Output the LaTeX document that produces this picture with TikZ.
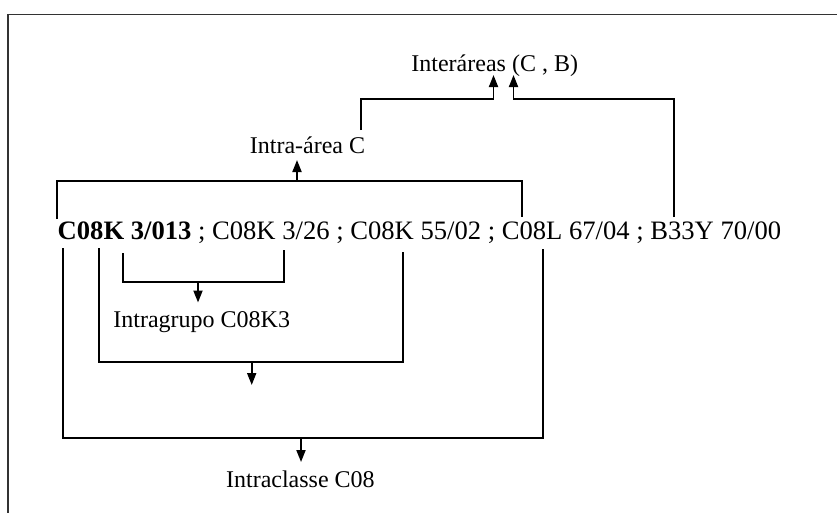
\documentclass[tikz,border=0pt]{standalone}
\usepackage{fontspec}
\setmainfont{Liberation Serif}
\usetikzlibrary{arrows.meta}
\begin{document}
\begin{tikzpicture}[x=1pt, y=-1pt,
  lbl/.style={inner sep=0pt, font=\fontsize{24}{28}\selectfont},
  codeline/.style={inner sep=0pt, font=\fontsize{26.6}{30}\selectfont},
  link/.style={line width=1.8pt, line cap=butt, line join=miter},
  up/.style={link, -{Triangle[length=12pt, width=9pt]}},
  frame/.style={line width=1.4pt, draw=black!80}]
  \useasboundingbox (0,0) rectangle (837,512);
  \begin{scope}
    \clip (0,0) rectangle (837,512);
    \draw[frame] (8,14.7) rectangle (860,540);
  \end{scope}

  % labels
  \node[codeline, anchor=base west] (codes) at (57.5,239)
    {\textbf{C08K 3/013} ; C08K 3/26 ; C08K 55/02 ; C08L 67/04 ; B33Y 70/00};
  \node[lbl, anchor=base] (inter) at (494.7,71.7) {Interáreas (C , B)};
  \node[lbl, anchor=base] (intraarea) at (307.5,153.3) {Intra-área C};
  \node[lbl, anchor=base] (grupo) at (201.7,327.3) {Intragrupo C08K3};
  \node[lbl, anchor=base] (classe) at (300.4,487) {Intraclasse C08};

  % bracket ends above the codes
  \coordinate (aL) at (57,219);
  \coordinate (aR) at (522,217);
  \coordinate (aM) at (297,181);
  \coordinate (aTip) at (297,160);
  \coordinate (cBot) at (361,130);
  \coordinate (bBot) at (674,217);
  \coordinate (iL) at (493.5,75);
  \coordinate (iR) at (513.5,75);

  % bracket ends below the codes
  \coordinate (g1) at (123,253);
  \coordinate (g2) at (284,250);
  \coordinate (gTip) at (198,302.5);
  \coordinate (k1) at (99,248);
  \coordinate (k2) at (403,252);
  \coordinate (kTip) at (251.7,385);
  \coordinate (c1) at (63,248);
  \coordinate (c2) at (543,249);
  \coordinate (cTip) at (301,462);

  % intra-area bracket
  \draw[link] (aL) |- (aM) -| (aR);
  \draw[up] (aM) -- (aTip);

  % inter-area connectors
  \draw[up] (cBot) |- (493.5,99) -- (iL);
  \draw[up] (bBot) |- (513.5,99) -- (iR);

  % intragroup bracket
  \draw[link] (g1) |- (198,281.7) -| (g2);
  \draw[up] (198,281.7) -- (gTip);

  % second bracket
  \draw[link] (k1) |- (251.7,362.3) -| (k2);
  \draw[up] (251.7,362.3) -- (kTip);

  % intraclass bracket
  \draw[link] (c1) |- (301,438) -| (c2);
  \draw[up] (301,438) -- (cTip);
\end{tikzpicture}
\end{document}
